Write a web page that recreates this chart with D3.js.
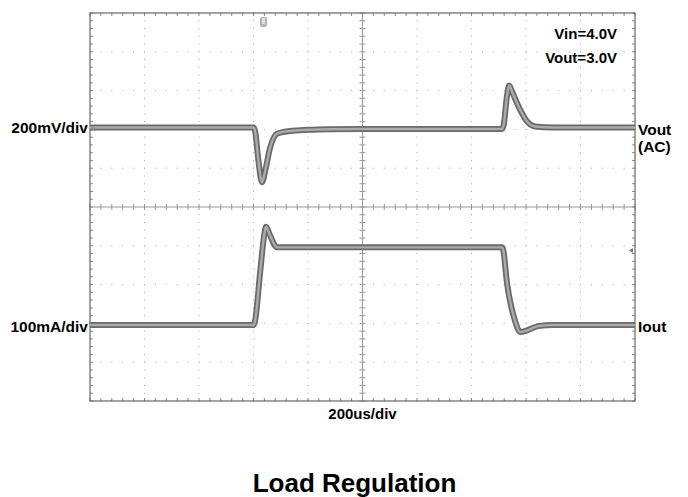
<!DOCTYPE html>
<html><head><meta charset="utf-8">
<script src="https://cdn.jsdelivr.net/npm/d3@7"></script>
<style>body{margin:0;background:#fff}svg{display:block}</style>
</head><body>
<svg id="c" width="688" height="497"></svg>
<script>
// time in microseconds, Vout (AC) in mV, Iout in mA
const voutTime = [0, 600, 606, 618, 631, 645, 660, 686, 734, 800, 880, 1000, 1512, 1518, 1530, 1538, 1550, 1578, 1604, 1633, 1700, 2000];
const voutMV   = [0, 0, -20, -170, -283, -210, -110, -32, -18, -12, -9, -8, -8, 12, 160, 216, 180, 93, 31, 5, 0, 0];
const ioutTime = [0, 600, 604, 625, 640, 646, 660, 686, 1000, 1512, 1516, 1530, 1560, 1578, 1600, 1644, 1700, 2000];
const ioutMA   = [0, 0, 5, 140, 235, 253, 232, 200, 200, 200, 195, 110, 10, -18, -15, -3, 0, 0];
const timeDivs = [0,200,400,600,800,1000,1200,1400,1600,1800,2000];
const divLabels = {v: "200mV/div", i: "100mA/div", t: "200us/div"};
const condLabels = ["Vin=4.0V", "Vout=3.0V"];
const title = "Load Regulation";

const svg = d3.select("#c");
const L = 90, R = 635, T = 13, B = 401;
const x = d3.scaleLinear().domain([0, 2000]).range([L, R]);
const yv = d3.scaleLinear().domain([-1410, 590]).range([B, T]);   // Vout offset ~ +2 div
const yi = d3.scaleLinear().domain([-196, 804]).range([B, T]);    // Iout offset ~ -3 div
const yDiv = d3.scaleLinear().domain([0, 10]).range([B, T]);

const g = svg.append("g");
// dotted grid
const minorX = d3.range(0, 2000.1, 40);
const minorY = d3.range(0, 10.01, 0.2);
for (let d = 1; d < 10; d++) {
  if (d === 5) continue;
  minorY.forEach(v => g.append("rect").attr("x", x(timeDivs[d]) - 0.5).attr("y", yDiv(v) - 0.5).attr("width", 1).attr("height", 1).attr("fill", "#aaa"));
  minorX.forEach(t => g.append("rect").attr("x", x(t) - 0.5).attr("y", yDiv(d) - 0.5).attr("width", 1).attr("height", 1).attr("fill", "#aaa"));
}
// centre lines
g.append("line").attr("x1", x(1000)).attr("x2", x(1000)).attr("y1", T).attr("y2", B).attr("stroke", "#999").attr("stroke-width", 1);
g.append("line").attr("x1", L).attr("x2", R).attr("y1", yDiv(5)).attr("y2", yDiv(5)).attr("stroke", "#999").attr("stroke-width", 1);
minorX.forEach(t => {
  g.append("line").attr("x1", x(t)).attr("x2", x(t)).attr("y1", yDiv(5) - 3).attr("y2", yDiv(5) + 3).attr("stroke", "#999");
  g.append("line").attr("x1", x(t)).attr("x2", x(t)).attr("y1", T).attr("y2", T + 3).attr("stroke", "#888");
  g.append("line").attr("x1", x(t)).attr("x2", x(t)).attr("y1", B - 3).attr("y2", B).attr("stroke", "#888");
});
minorY.forEach(v => {
  g.append("line").attr("x1", x(1000) - 3).attr("x2", x(1000) + 3).attr("y1", yDiv(v)).attr("y2", yDiv(v)).attr("stroke", "#999");
  g.append("line").attr("x1", L).attr("x2", L + 3).attr("y1", yDiv(v)).attr("y2", yDiv(v)).attr("stroke", "#888");
  g.append("line").attr("x1", R - 3).attr("x2", R).attr("y1", yDiv(v)).attr("y2", yDiv(v)).attr("stroke", "#888");
});
// frame
g.append("rect").attr("x", L).attr("y", T).attr("width", R - L).attr("height", B - T).attr("fill", "none").attr("stroke", "#666").attr("stroke-width", 1.2);

// traces
const lineV = d3.line().x((d, k) => x(voutTime[k])).y(d => yv(d)).curve(d3.curveMonotoneX);
const lineI = d3.line().x((d, k) => x(ioutTime[k])).y(d => yi(d)).curve(d3.curveMonotoneX);
[[voutMV, lineV], [ioutMA, lineI]].forEach(([data, ln]) => {
  svg.append("path").attr("d", ln(data)).attr("fill", "none").attr("stroke", "#6a6a6a").attr("stroke-width", 6).attr("stroke-linejoin", "round");
  svg.append("path").attr("d", ln(data)).attr("fill", "none").attr("stroke", "#ababab").attr("stroke-width", 2.4).attr("stroke-linejoin", "round");
});

// markers
svg.append("text").attr("x", 91).attr("y", 131).attr("font-family", "Liberation Sans, Arial").attr("font-size", 7).attr("fill", "#888").text("A");
svg.append("rect").attr("x", 260).attr("y", 17).attr("width", 7).attr("height", 10).attr("rx", 2).attr("fill", "#b5b5b5");
svg.append("rect").attr("x", 262).attr("y", 18).attr("width", 3).attr("height", 6).attr("fill", "#e0e0e0");
svg.append("path").attr("d", d3.line()([[629, 250.5], [633, 248], [633, 253]])).attr("fill", "#777");

const font = "Liberation Sans, Arial, Helvetica, sans-serif";
function txt(s, xx, yy, size, anchor) {
  svg.append("text").attr("x", xx).attr("y", yy).attr("font-family", font).attr("font-weight", "bold")
    .attr("font-size", size).attr("text-anchor", anchor || "start").attr("fill", "#000").text(s);
}
txt(divLabels.v, 88, 133, 15.5, "end");
txt(divLabels.i, 88, 331.5, 15.5, "end");
txt(divLabels.t, x(1000), 419, 15, "middle");
txt("Vout", 638, 135, 15.5);
txt("(AC)", 638, 152, 15.5);
txt("Iout", 638, 331.5, 15.5);
txt(condLabels[0], 617, 38.5, 15, "end");
txt(condLabels[1], 617, 63, 15, "end");
txt(title, 354.5, 492, 26, "middle");
</script>
</body></html>
